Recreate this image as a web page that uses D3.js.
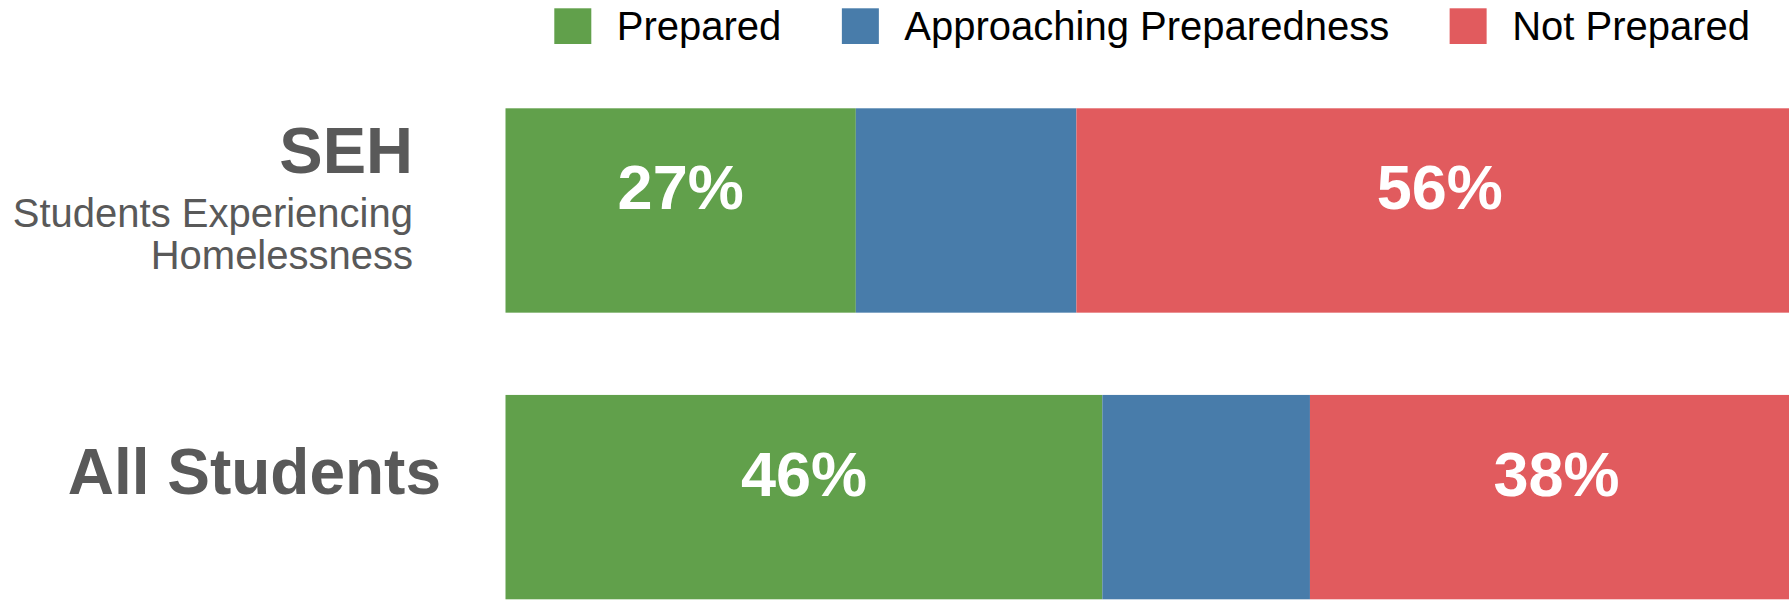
<!DOCTYPE html>
<html>
<head>
<meta charset="utf-8">
<script src="https://cdn.jsdelivr.net/npm/d3@7"></script>
<style>
  html, body { margin: 0; padding: 0; background: #ffffff; overflow: hidden; }
  svg { display: block; }
  text { font-family: "Liberation Sans", Arial, Helvetica, sans-serif; }
</style>
</head>
<body>
<svg id="chart" width="1789" height="600"></svg>
<script>
// ---- data ----
const categories = ["SEH", "All Students"];
const subtitles = [["Students Experiencing", "Homelessness"], []];
const seriesNames = ["Prepared", "Approaching Preparedness", "Not Prepared"];
const prepared = [27, 46];
const approaching = [17, 16];
const notPrepared = [56, 38];
const showValue = [true, false, true];
const colors = ["#61a04b", "#487caa", "#e15b5e"];

// ---- build table ----
const keys = seriesNames;
const table = categories.map((c, i) => ({
  category: c,
  "Prepared": prepared[i],
  "Approaching Preparedness": approaching[i],
  "Not Prepared": notPrepared[i]
}));

const svg = d3.select("#chart");

const x = d3.scaleLinear().domain([0, 100]).range([505.5, 1803]);
const y = d3.scaleBand().domain(categories).range([108.3, 599.3]).paddingInner(0.287).paddingOuter(0);
const color = d3.scaleOrdinal().domain(keys).range(colors);

const stacked = d3.stack().keys(keys)(table);

// bars
const layers = svg.append("g").selectAll("g")
  .data(stacked).join("g")
  .attr("fill", d => color(d.key));

layers.selectAll("rect")
  .data(d => d.map(v => ({ v, key: d.key })))
  .join("rect")
  .attr("x", d => x(d.v[0]))
  .attr("y", d => y(d.v.data.category))
  .attr("width", d => x(d.v[1]) - x(d.v[0]))
  .attr("height", y.bandwidth());

// value labels
const bw = y.bandwidth();
stacked.forEach((layer, si) => {
  if (!showValue[si]) return;
  svg.append("g").selectAll("text")
    .data(layer).join("text")
    .attr("x", d => x((d[0] + d[1]) / 2))
    .attr("y", d => y(d.data.category) + bw * 0.495)
    .attr("text-anchor", "middle")
    .attr("fill", "#ffffff")
    .attr("font-weight", "bold")
    .attr("font-size", 63)
    .text(d => (d[1] - d[0]) + "%");
});

// category labels
const catX = { "SEH": 413, "All Students": 441 };
const catDy = { "SEH": 65, "All Students": 99.3 };
categories.forEach((c, i) => {
  const top = y(c);
  svg.append("text")
    .attr("x", catX[c])
    .attr("y", top + catDy[c])
    .attr("text-anchor", "end")
    .attr("fill", "#595959")
    .attr("font-weight", "bold")
    .attr("font-size", c === "SEH" ? 65 : 64)
    .text(c);
  subtitles[i].forEach((s, j) => {
    svg.append("text")
      .attr("x", catX[c])
      .attr("y", top + 118.5 + j * 42)
      .attr("text-anchor", "end")
      .attr("fill", "#595959")
      .attr("font-size", 40)
      .text(s);
  });
});

// legend
const legend = svg.append("g");
let lx = 554.3;
keys.forEach((k, i) => {
  legend.append("rect")
    .attr("x", lx).attr("y", 8.3)
    .attr("width", 37).attr("height", 35.7)
    .attr("fill", color(k));
  const t = legend.append("text")
    .attr("x", lx + 62.5)
    .attr("y", 39.5)
    .attr("fill", "#000000")
    .attr("font-size", 40)
    .text(k);
  lx = lx + 62.5 + t.node().getComputedTextLength() + 60.5;
});
</script>
</body>
</html>
